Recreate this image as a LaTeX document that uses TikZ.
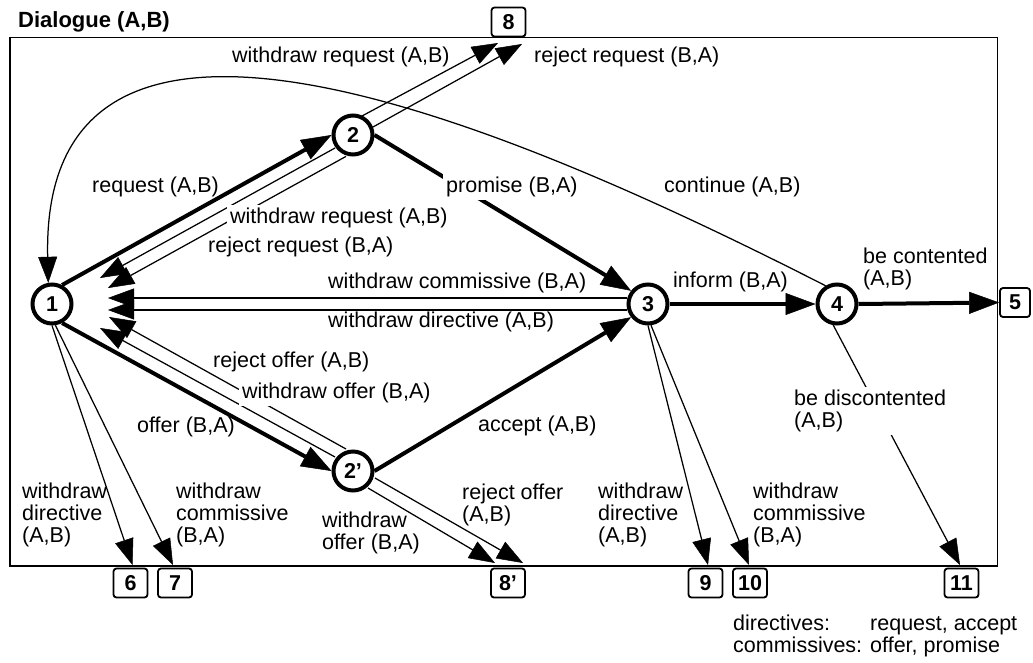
\documentclass[tikz,border=0pt]{standalone}
\usepackage{fontspec}
\setmainfont{Liberation Sans}
\usetikzlibrary{arrows.meta}
\newcommand\dlab{\fontsize{21.5}{22}\selectfont}
\newcommand\dleg{\fontsize{21.5}{19}\selectfont}
\newcommand\dbold{\fontsize{21.5}{22}\selectfont\bfseries}
\newcommand\dtitle{\fontsize{22}{24}\selectfont\bfseries}
\begin{document}
\begin{tikzpicture}[x=1pt,y=-1pt,
  state/.style={circle,draw,line width=4pt,minimum size=39pt,inner sep=0pt,fill=white,font=\dbold},
  endbox/.style={draw,rounded corners=3pt,line width=1.8pt,minimum width=34pt,minimum height=29pt,inner sep=0pt,fill=white,font=\dbold},
  lbl/.style={font=\dlab,inner sep=0pt,anchor=west,align=left},
  wlbl/.style={lbl,fill=white,inner sep=3pt},
  thk/.style={line width=4pt,-{Triangle[length=30pt,width=22pt,line width=0.5pt]}},
  thn/.style={line width=1.25pt,-{Triangle[length=26pt,width=19pt,line width=0.5pt]}},
]
\useasboundingbox (0,0) rectangle (1033,662);
% frame and title
\draw[line width=1.8pt] (10,37.5) rectangle (997.5,566);
\node[font=\dtitle,anchor=base west,inner sep=0pt] (title) at (18,27) {Dialogue (A,B)};
% states
\node[state] (n1) at (52,304) {1};
\node[state] (n2) at (353,135) {2};
\node[state] (n2p) at (353,471) {2’};
\node[state] (n3) at (648,304) {3};
\node[state] (n4) at (837,304) {4};
% end boxes
\node[endbox] (b8) at (508.5,22) {8};
\node[endbox,minimum width=30pt] (b5) at (1015,302.5) {5};
\node[endbox] (b6) at (130.5,583) {6};
\node[endbox] (b7) at (175,583) {7};
\node[endbox] (b8p) at (508,583) {8’};
\node[endbox] (b9) at (705.5,583) {9};
\node[endbox] (b10) at (750,583) {10};
\node[endbox] (b11) at (961.5,583) {11};
% thick transitions
\draw[thk] (n1.62) -- (n2.west);
\draw[thk] (n1.-62) -- (n2p.west);
\draw[thk] (n2.east) -- (n3.142);
\draw[thk] (n2p.east) -- (n3.-142);
\draw[thk] (n3.east) -- (n4.west);
\draw[thk] (n4.east) -- (b5.west);
% continue
\draw[thn] (n4.122) .. controls (520,130) and (40,-80) .. (n1.100);
% returns to 1
\draw[thn] ([shift={(-18,13)}]n2.center) -- ([shift={(48,-26)}]n1.center);
\draw[thn] ([shift={(-7,21.4)}]n2.center) -- ([shift={(56,-16)}]n1.center);
\draw[thn] ([shift={(-21,-6)}]n3.center) -- ([shift={(56,-6)}]n1.center);
\draw[thn] ([shift={(-21,6)}]n3.center) -- ([shift={(56,6)}]n1.center);
\draw[thn] ([shift={(-7,-22)}]n2p.center) -- ([shift={(57,13)}]n1.center);
\draw[thn] ([shift={(-18,-14)}]n2p.center) -- ([shift={(48,24)}]n1.center);
% to 8 and 8'
\draw[thn] ([shift={(9,-19)}]n2.center) -- ([shift={(-10.5,5.6)}]b8.south);
\draw[thn] ([shift={(20,-8)}]n2.center) -- ([shift={(13.5,6.6)}]b8.south);
\draw[thn] ([shift={(15,17)}]n2p.center) -- ([shift={(-13,-4.6)}]b8p.north);
\draw[thn] ([shift={(22,7)}]n2p.center) -- ([shift={(15,-4.6)}]b8p.north);
% downward exits
\draw[thn] (n1.-90) -- ([shift={(2,-2.6)}]b6.north);
\draw[thn] (n1.-81) -- ([shift={(-2,-2.6)}]b7.north);
\draw[thn] (n3.-90) -- ([shift={(2.5,-2.6)}]b9.north);
\draw[thn] (n3.-82) -- ([shift={(-1,-2.6)}]b10.north);
\draw[thn] (n4.-100) -- ([shift={(-1.5,-2.6)}]b11.north);
% labels
\node[lbl] (l1) at (232,57) {withdraw request (A,B)};
\node[lbl] (l2) at (534,57) {reject request (B,A)};
\node[lbl] (l3) at (92,187) {request (A,B)};
\node[wlbl] (l4) at (443,187) {promise (B,A)};
\node[lbl] (l5) at (664,187) {continue (A,B)};
\node[wlbl] (l6) at (227,218) {withdraw request (A,B)};
\node[lbl] (l7) at (208,247) {reject request (B,A)};
\node[lbl] (l8) at (328,283) {withdraw commissive (B,A)};
\node[lbl] (l9) at (328,322) {withdraw directive (A,B)};
\node[lbl] (l10) at (673,282) {inform (B,A)};
\node[lbl] (l11) at (863,269) {be contented\\(A,B)};
\node[lbl] (l12) at (213,362) {reject offer (A,B)};
\node[wlbl] (l13) at (239,393) {withdraw offer (B,A)};
\node[lbl] (l14) at (137,427) {offer (B,A)};
\node[lbl] (l15) at (478,426) {accept (A,B)};
\node[wlbl] (l16) at (791,411) {be discontented\\(A,B)};
\node[lbl] (l17) at (22,515) {withdraw\\directive\\(A,B)};
\node[lbl] (l18) at (176,515) {withdraw\\commissive\\(B,A)};
\node[lbl] (l19) at (322,532.5) {withdraw\\offer (B,A)};
\node[lbl] (l20) at (462,505) {reject offer\\(A,B)};
\node[lbl] (l21) at (598,515) {withdraw\\directive\\(A,B)};
\node[lbl] (l22) at (753,515) {withdraw\\commissive\\(B,A)};
% legend
\node[lbl,font=\dleg] (legend) at (733,636.5) {\begin{tabular}{@{}l@{\hspace{8pt}}l@{}}directives: & request, accept\\ commissives: & offer, promise\end{tabular}};
\end{tikzpicture}
\end{document}
